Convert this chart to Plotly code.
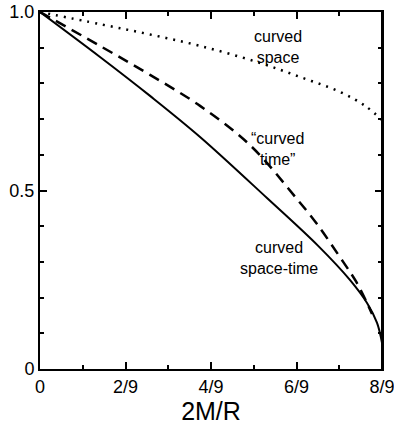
import plotly.graph_objects as go

# x values are in units of 2M/R (0 .. 8/9)
space_time_x = [0.0, 0.156, 0.286, 0.416, 0.590, 0.723, 0.806, 0.850, 0.876, 0.889]
space_time_y = [1.0, 0.874, 0.765, 0.650, 0.479, 0.345, 0.249, 0.185, 0.129, 0.073]

curved_time_x = [0.0, 0.156, 0.286, 0.416, 0.546, 0.668, 0.720, 0.788, 0.821, 0.850, 0.863]
curved_time_y = [1.0, 0.905, 0.824, 0.737, 0.627, 0.476, 0.406, 0.300, 0.246, 0.185, 0.154]

curved_space_x = [0.0, 0.156, 0.286, 0.416, 0.564, 0.676, 0.780, 0.845, 0.889]
curved_space_y = [1.0, 0.966, 0.937, 0.905, 0.860, 0.818, 0.776, 0.737, 0.697]

x_tickvals = [0, 2/9, 4/9, 6/9, 8/9]
x_ticktext = ["0", "2/9", "4/9", "6/9", "8/9"]
y_major_step = 0.5
y_minor_step = 0.1
y_label_alias = {"0.0": "0"}

labels = [
    ("curved<br>space", 0.619, 0.902),
    ("\u201ccurved<br>time\u201d", 0.617, 0.616),
    ("curved<br>space-time", 0.621, 0.311),
]

FONT = "Liberation Sans, Arial, Helvetica, sans-serif"

fig = go.Figure()
fig.add_trace(go.Scatter(x=curved_space_x, y=curved_space_y, mode="lines",
                         line=dict(color="black", width=2.5, dash="2px,6px", shape="spline"),
                         showlegend=False, hoverinfo="skip"))
fig.add_trace(go.Scatter(x=curved_time_x, y=curved_time_y, mode="lines",
                         line=dict(color="black", width=2.5, dash="11px,7px", shape="spline"),
                         showlegend=False, hoverinfo="skip"))
fig.add_trace(go.Scatter(x=space_time_x, y=space_time_y, mode="lines",
                         line=dict(color="black", width=2, shape="spline"),
                         showlegend=False, hoverinfo="skip"))

for text, x, y in labels:
    fig.add_annotation(x=x, y=y, text=text, showarrow=False, xanchor="center", yanchor="middle",
                       font=dict(family=FONT, size=16, color="black"))

# right frame edge of the plot area
fig.add_shape(type="line", xref="paper", yref="paper", x0=1, x1=1, y0=0, y1=1,
              line=dict(color="black", width=2))

fig.update_layout(
    width=394, height=428,
    margin=dict(l=40, r=12, t=12, b=59),
    paper_bgcolor="white", plot_bgcolor="white",
    font=dict(family=FONT, color="black"),
)
fig.update_yaxes(
    range=[0, 1.0], tickmode="linear", tick0=0, dtick=y_major_step, tickformat=".1f",
    labelalias=y_label_alias,
    ticks="inside", ticklen=7, tickwidth=2, tickcolor="black",
    minor=dict(ticks="inside", ticklen=4, tickwidth=2, tickcolor="black",
               dtick=y_minor_step, tick0=0, showgrid=False),
    showline=True, linewidth=2, linecolor="black", mirror="allticks",
    showgrid=False, zeroline=False, automargin=False, ticklabeloverflow="allow",
    tickfont=dict(size=18, family=FONT),
)
fig.update_xaxes(
    range=[0, 8/9], tickmode="array", tickvals=x_tickvals, ticktext=x_ticktext,
    ticks="inside", ticklen=7, tickwidth=2, tickcolor="black",
    minor=dict(ticks="inside", ticklen=4, tickwidth=2, tickcolor="black", dtick=1/9, tick0=0,
               showgrid=False),
    showline=True, linewidth=2, linecolor="black", mirror="allticks",
    showgrid=False, zeroline=False, automargin=False, ticklabeloverflow="allow",
    tickfont=dict(size=18, family=FONT),
    title=dict(text="2M/R", font=dict(size=25, family=FONT), standoff=6),
)

fig.write_html("out.html", config={"displayModeBar": False},
               post_script="document.body.style.margin='0px';document.body.style.overflow='hidden';")
